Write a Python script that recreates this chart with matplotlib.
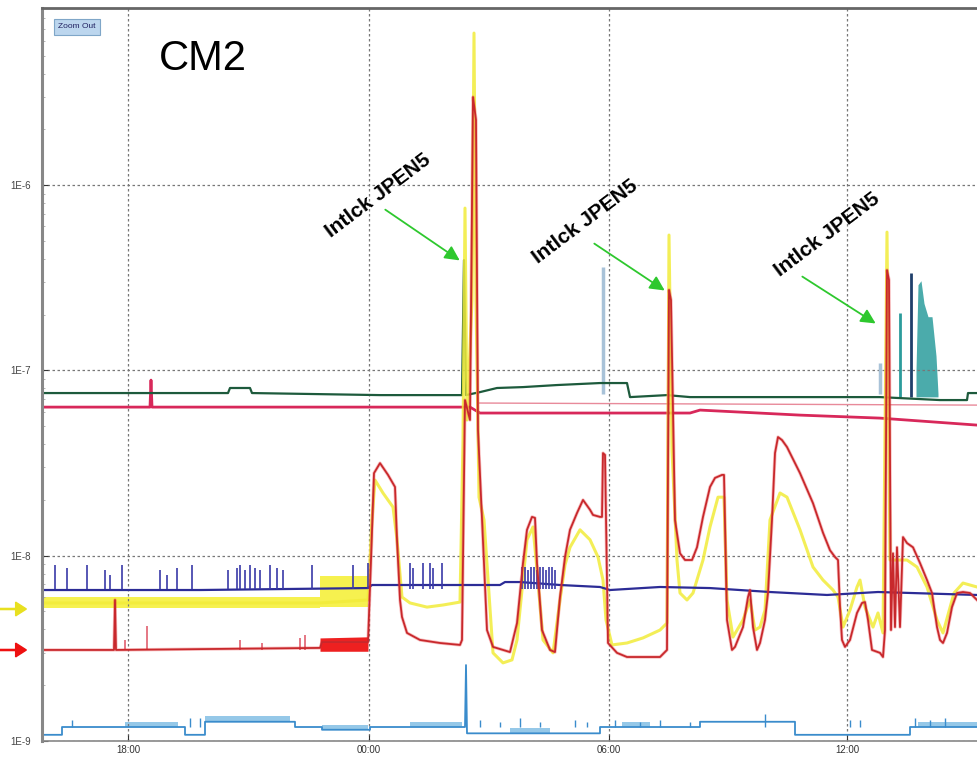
import matplotlib
matplotlib.use('Agg')
import matplotlib.pyplot as plt

plt.rcParams['font.family'] = ['Liberation Sans', 'DejaVu Sans']

# ---------------- data (time in hours from window start, pressure values) ----------------
x_ticks = [2.15, 8.175, 14.175, 20.125]
x_tick_labels = ['18:00', '00:00', '06:00', '12:00']
y_ticks = [1e-9, 1e-8, 1e-7, 1e-6]
y_tick_labels = ['1E-9', '1E-8', '1E-7', '1E-6']

red_t = [0, 1.8, 1.825, 1.85, 6.95, 7.0, 8.15, 8.225, 8.3, 8.45, 8.65, 8.825, 8.875, 8.95, 9.0,
         9.125, 9.45, 9.95, 10.45, 10.5, 10.575, 10.7, 10.775, 10.85, 10.9, 11.125, 11.275, 11.7,
         11.875, 12.025, 12.125, 12.25, 12.325, 12.375, 12.5, 12.7, 12.825, 12.95, 13.075, 13.2,
         13.375, 13.525, 13.7, 13.775, 13.95, 14.0, 14.025, 14.075, 14.15, 14.375, 14.625, 15.45,
         15.625, 15.675, 15.725, 15.825, 15.95, 16.075, 16.25, 16.375, 16.525, 16.7, 16.825, 17.0,
         17.05, 17.125, 17.25, 17.325, 17.525, 17.65, 17.7, 17.775, 17.875, 17.95, 18.075, 18.15,
         18.25, 18.325, 18.4, 18.5, 18.625, 18.95, 19.275, 19.525, 19.7, 19.825, 19.9, 19.95, 20.0,
         20.075, 20.2, 20.375, 20.5, 20.575, 20.65, 20.75, 20.95, 21.025, 21.075, 21.125, 21.175,
         21.225, 21.275, 21.325, 21.375, 21.45, 21.525, 21.625, 21.775, 21.95, 22.125, 22.25,
         22.375, 22.45, 22.525, 22.625, 22.75, 22.875, 23.025, 23.2, 23.375]
red_v = [3.10e-9, 3.10e-9, 5.77e-9, 3.10e-9, 3.18e-9, 3.42e-9, 3.42e-9, 9.48e-9, 2.79e-8, 3.16e-8,
         2.73e-8, 2.35e-8, 1.22e-8, 5.77e-9, 4.67e-9, 3.83e-9, 3.51e-9, 3.38e-9, 3.30e-9, 3.51e-9,
         6.92e-8, 5.40e-8, 2.99e-6, 2.25e-6, 4.77e-8, 3.97e-9, 3.22e-9, 3.02e-9, 4.33e-9, 9.13e-9,
         1.38e-8, 1.62e-8, 1.60e-8, 9.13e-9, 3.97e-9, 3.10e-9, 3.02e-9, 5.98e-9, 9.84e-9, 1.38e-8,
         1.70e-8, 2.00e-8, 1.77e-8, 1.66e-8, 1.62e-8, 1.62e-8, 3.58e-8, 3.50e-8, 3.38e-9, 2.99e-9,
         2.84e-9, 2.84e-9, 3.10e-9, 2.72e-7, 2.40e-7, 1.56e-8, 1.03e-8, 9.48e-9, 9.48e-9, 1.11e-8,
         1.62e-8, 2.35e-8, 2.63e-8, 2.73e-8, 2.73e-8, 4.50e-9, 3.10e-9, 3.22e-9, 4.12e-9, 5.98e-9,
         6.53e-9, 4.12e-9, 3.10e-9, 3.38e-9, 4.50e-9, 6.29e-9, 1.56e-8, 3.58e-8, 4.37e-8, 4.21e-8,
         3.86e-8, 2.79e-8, 1.92e-8, 1.33e-8, 1.07e-8, 9.84e-9, 9.48e-9, 5.28e-9, 3.51e-9, 3.22e-9,
         3.51e-9, 4.91e-9, 5.56e-9, 5.62e-9, 4.50e-9, 3.10e-9, 2.99e-9, 2.84e-9, 3.97e-9, 3.48e-7,
         3.08e-7, 3.97e-9, 1.03e-8, 4.12e-9, 1.11e-8, 4.12e-9, 1.26e-8, 1.17e-8, 1.11e-8, 9.13e-9,
         7.39e-9, 6.29e-9, 4.12e-9, 3.51e-9, 3.38e-9, 3.83e-9, 5.28e-9, 6.29e-9, 6.37e-9, 6.29e-9,
         5.77e-9]
red_band_t = [6.95, 8.15]
red_band_lo = [3.05e-9, 3.05e-9]
red_band_hi = [3.6e-9, 3.65e-9]
red_spike_t = [2.075, 2.625, 4.95, 5.5, 6.45, 6.575]
red_spike_v = [3.5e-9, 4.18e-9, 3.5e-9, 3.38e-9, 3.6e-9, 3.75e-9]

yel_t = [0, 6.95, 8.15, 8.25, 8.325, 8.525, 8.775, 8.875, 9.0, 9.2, 9.625, 10.025, 10.45, 10.525,
         10.575, 10.625, 10.75, 10.8, 10.85, 10.925, 11.05, 11.275, 11.525, 11.75, 11.875, 12.025,
         12.125, 12.275, 12.375, 12.525, 12.775, 12.95, 13.075, 13.2, 13.45, 13.7, 13.9, 14.025,
         14.1, 14.25, 14.625, 15.025, 15.45, 15.625, 15.675, 15.75, 15.875, 15.95, 16.125, 16.275,
         16.525, 16.7, 16.9, 17.05, 17.125, 17.275, 17.525, 17.7, 17.825, 17.95, 18.075, 18.2,
         18.45, 18.625, 18.95, 19.275, 19.525, 19.775, 19.9, 20.025, 20.2, 20.375, 20.45, 20.575,
         20.775, 20.9, 21.025, 21.125, 21.2, 21.45, 21.625, 21.875, 22.125, 22.375, 22.525, 22.8,
         23.025, 23.375]
yel_v = [5.56e-9, 5.56e-9, 5.77e-9, 1.56e-8, 2.56e-8, 2.18e-8, 1.83e-8, 1.22e-8, 5.98e-9, 5.56e-9,
         5.28e-9, 5.42e-9, 5.62e-9, 4.21e-8, 7.52e-7, 5.40e-8, 2.40e-7, 6.62e-6, 2.40e-7, 2.07e-8,
         1.56e-8, 2.99e-9, 2.64e-9, 2.74e-9, 3.51e-9, 7.39e-9, 1.22e-8, 1.43e-8, 8.37e-9, 3.51e-9,
         2.99e-9, 5.77e-9, 8.91e-9, 1.11e-8, 1.38e-8, 1.22e-8, 9.84e-9, 7.39e-9, 4.50e-9, 3.30e-9,
         3.38e-9, 3.60e-9, 3.97e-9, 4.33e-9, 5.38e-7, 3.70e-8, 9.48e-9, 6.29e-9, 5.77e-9, 6.29e-9,
         9.48e-9, 1.43e-8, 2.07e-8, 2.07e-8, 5.77e-9, 3.64e-9, 4.50e-9, 5.77e-9, 3.97e-9, 4.12e-9,
         5.09e-9, 1.56e-8, 2.18e-8, 2.07e-8, 1.38e-8, 8.69e-9, 7.39e-9, 6.53e-9, 5.98e-9, 4.12e-9,
         5.09e-9, 6.78e-9, 7.39e-9, 5.28e-9, 4.12e-9, 4.91e-9, 3.83e-9, 5.58e-7, 9.48e-9, 9.48e-9,
         9.48e-9, 8.69e-9, 6.78e-9, 4.50e-9, 3.83e-9, 6.29e-9, 7.12e-9, 6.78e-9]
yel_band_t = [0, 6.95, 6.95, 8.15]
yel_band_lo = [5.2e-9, 5.2e-9, 5.3e-9, 5.3e-9]
yel_band_hi = [5.95e-9, 5.95e-9, 7.8e-9, 7.8e-9]

navy_t = [0, 3.95, 8.15, 8.25, 11.45, 11.575, 11.95, 12.95, 13.95, 14.2, 15.45, 16.7, 18.2, 19.625,
          20.9, 23.375]
navy_v = [6.53e-9, 6.53e-9, 6.69e-9, 6.95e-9, 6.95e-9, 7.21e-9, 7.21e-9, 6.95e-9, 6.78e-9, 6.53e-9,
          6.78e-9, 6.69e-9, 6.37e-9, 6.14e-9, 6.37e-9, 6.14e-9]
navy_spike_t = [0.325, 0.625, 1.125, 1.575, 1.7, 2.0, 2.95, 3.125, 3.375, 3.75, 4.65, 4.875, 4.95,
                5.075, 5.2, 5.325, 5.45, 5.7, 5.875, 6.025, 6.75, 7.775, 8.15, 9.2, 9.275, 9.525,
                9.7, 9.775, 10.0, 12.0, 12.075, 12.15, 12.225, 12.3, 12.375, 12.45, 12.525, 12.6,
                12.675, 12.75, 12.825]
navy_spike_v = [8.9e-9, 8.6e-9, 8.9e-9, 8.4e-9, 7.9e-9, 8.9e-9, 8.4e-9, 7.9e-9, 8.6e-9, 8.9e-9,
                8.4e-9, 8.6e-9, 8.9e-9, 8.4e-9, 8.9e-9, 8.6e-9, 8.4e-9, 8.9e-9, 8.6e-9, 8.4e-9,
                8.9e-9, 8.9e-9, 9.1e-9, 9.1e-9, 8.6e-9, 9.1e-9, 9.1e-9, 8.6e-9, 9.1e-9, 8.7e-9,
                8.7e-9, 8.4e-9, 8.7e-9, 8.7e-9, 8.4e-9, 8.7e-9, 8.7e-9, 8.4e-9, 8.7e-9, 8.7e-9,
                8.4e-9]

green_t = [0, 4.65, 4.7, 5.2, 5.25, 8.45, 10.5, 10.55, 10.6, 10.95, 11.375, 12.025, 12.875, 13.95,
           14.625, 14.7, 15.625, 16.2, 20.95, 22.45, 23.125, 23.15, 23.375]
green_v = [7.55e-8, 7.55e-8, 8.04e-8, 8.04e-8, 7.55e-8, 7.36e-8, 7.36e-8, 3.94e-7, 7.36e-8, 7.64e-8,
           8.04e-8, 8.13e-8, 8.34e-8, 8.55e-8, 8.55e-8, 7.18e-8, 7.36e-8, 7.18e-8, 7.18e-8, 6.92e-8,
           6.92e-8, 7.55e-8, 7.55e-8]

teal_t = [21.85, 21.9, 21.975, 22.05, 22.15, 22.25, 22.35, 22.4]
teal_v = [1.0e-7, 2.9e-7, 3.05e-7, 2.3e-7, 1.95e-7, 1.95e-7, 1.2e-7, 7.5e-8]
teal_spike_t = [21.45, 21.725]
teal_spike_v = [2.04e-7, 3.36e-7]
light_spike_t = [14.025, 20.95]
light_spike_v = [3.61e-7, 1.10e-7]

crim_t = [0, 2.7, 2.725, 2.75, 10.7, 10.95, 16.2, 16.45, 18.95, 20.95, 23.375]
crim_v = [6.34e-8, 6.34e-8, 8.87e-8, 6.34e-8, 6.34e-8, 5.89e-8, 5.89e-8, 6.11e-8, 5.74e-8, 5.53e-8,
          5.07e-8]
pink_t = [10.9, 23.375]
pink_v = [6.67e-8, 6.50e-8]

lb_t = [0, 0.5, 0.5, 3.575, 3.575, 4.075, 4.075, 6.325, 6.325, 7.0, 7.0, 8.2, 8.2, 10.575, 10.6,
        10.625, 13.95, 13.95, 16.45, 16.45, 18.825, 18.825, 21.7, 21.7, 23.375]
lb_v = [1.08e-9, 1.08e-9, 1.19e-9, 1.19e-9, 1.08e-9, 1.08e-9, 1.27e-9, 1.27e-9, 1.19e-9, 1.19e-9,
        1.15e-9, 1.15e-9, 1.19e-9, 1.19e-9, 2.57e-9, 1.10e-9, 1.10e-9, 1.19e-9, 1.19e-9, 1.27e-9,
        1.27e-9, 1.08e-9, 1.08e-9, 1.19e-9, 1.19e-9]
lb_spike_t = [0.75, 3.7, 3.95, 10.95, 11.45, 11.95, 12.45, 13.325, 13.625, 14.325, 14.95, 15.45,
              16.2, 18.075, 20.2, 20.45, 21.825, 22.2, 22.575]
lb_spike_v = [1.30e-9, 1.33e-9, 1.33e-9, 1.30e-9, 1.27e-9, 1.33e-9, 1.27e-9, 1.30e-9, 1.27e-9,
              1.30e-9, 1.27e-9, 1.30e-9, 1.27e-9, 1.40e-9, 1.30e-9, 1.30e-9, 1.33e-9, 1.30e-9,
              1.33e-9]
lb_band_start = [2.075, 4.075, 7.0, 9.2, 11.7, 14.5, 21.9]
lb_band_end = [3.4, 6.2, 8.15, 10.5, 12.7, 15.2, 23.375]
lb_band_lo = [1.19e-9, 1.27e-9, 1.15e-9, 1.19e-9, 1.10e-9, 1.19e-9, 1.19e-9]
lb_band_hi = [1.26e-9, 1.36e-9, 1.22e-9, 1.26e-9, 1.17e-9, 1.26e-9, 1.26e-9]

annot_text = ['Intlck JPEN5', 'Intlck JPEN5', 'Intlck JPEN5']
annot_text_xy = [(8.4, 8.73e-7), (13.575, 6.32e-7), (19.625, 5.38e-7)]
annot_tail = [(8.525, 7.52e-7), (13.75, 4.93e-7), (18.95, 3.27e-7)]
annot_tip = [(10.5, 3.85e-7), (15.625, 2.65e-7), (20.9, 1.76e-7)]

# ---------------- figure ----------------
fig = plt.figure(figsize=(9.77, 7.66), dpi=100)
ax = fig.add_axes([42 / 977, 1 - 741 / 766, (977 - 42) / 977, 733 / 766])
ax.set_yscale('log')
ax.set_xlim(0, 23.375)
ax.set_ylim(1e-9, 9.04e-6)

# bottom light-blue trace
for s, e, lo, hi in zip(lb_band_start, lb_band_end, lb_band_lo, lb_band_hi):
    ax.fill_between([s, e], [lo, lo], [hi, hi], color='#3f9bd6', alpha=0.55, lw=0)
ax.plot(lb_t, lb_v, color='#3a8ccc', lw=1.3)
ax.vlines(lb_spike_t, [1.19e-9] * len(lb_spike_t), lb_spike_v, color='#3a8ccc', lw=1.0)

# crimson / pink lines near 6e-8
ax.plot(crim_t, crim_v, color='#d8285a', lw=2.0)
ax.plot(pink_t, pink_v, color='#e88a9a', lw=1.0)

# light spikes
ax.vlines(light_spike_t, [7.5e-8] * len(light_spike_t), light_spike_v, color='#a8c2d8', lw=2.5)

# green trace + teal cluster
ax.fill_between(teal_t, [7.2e-8] * len(teal_t), teal_v, color='#2b9c9c', lw=0, alpha=0.85)
ax.vlines(teal_spike_t, [7.2e-8] * len(teal_spike_t), teal_spike_v, color=['#2b9c9c', '#1f3f6a'], lw=2.0)
ax.plot(green_t, green_v, color='#1d5a3c', lw=1.6)

# yellow trace
ax.fill_between(yel_band_t, yel_band_lo, yel_band_hi, color='#f6f03c', lw=0, alpha=0.9)
ax.plot(yel_t, yel_v, color='#f2ec3a', lw=2.2, alpha=0.85)

# navy trace
ax.plot(navy_t, navy_v, color='#2c2c96', lw=1.6)
ax.vlines(navy_spike_t, [6.6e-9] * len(navy_spike_t), navy_spike_v, color='#3a3aa8', lw=1.2)

# red trace
ax.fill_between(red_band_t, red_band_lo, red_band_hi, color='#ee2020', lw=0)
ax.vlines(red_spike_t, [3.1e-9] * len(red_spike_t), red_spike_v, color='#e06070', lw=1.2)
ax.plot(red_t, red_v, color='#e8282c', lw=2.4, alpha=0.3)
ax.plot(red_t, red_v, color='#c8282c', lw=1.3)

# grid and axes styling
ax.set_xticks(x_ticks)
ax.set_xticklabels(x_tick_labels, fontsize=7, color='#333333')
ax.set_yticks(y_ticks)
ax.set_yticklabels(y_tick_labels, fontsize=7, color='#444444')
ax.grid(True, which='major', color='#777777', ls=(0, (2, 2)), lw=0.9)
ax.tick_params(axis='both', which='major', length=4, direction='in', pad=3, color='#333333')
ax.tick_params(axis='y', which='minor', length=2, direction='in', color='#aaaaaa')
ax.tick_params(axis='y', pad=8)
ax.spines['right'].set_visible(False)
ax.spines['left'].set_color('#888888')
ax.spines['left'].set_linewidth(2.2)
ax.spines['top'].set_color('#666666')
ax.spines['top'].set_linewidth(2.0)
ax.spines['bottom'].set_color('#888888')
ax.spines['bottom'].set_linewidth(1.2)

# annotations
for txt, txy, tail, tip in zip(annot_text, annot_text_xy, annot_tail, annot_tip):
    ax.text(txy[0], txy[1], txt, rotation=37, ha='center', va='center',
            fontsize=15, fontweight='bold', color='black')
    ax.annotate('', xy=tip, xytext=tail,
                arrowprops=dict(arrowstyle='-|>', color='#2ec82e', lw=1.3, mutation_scale=22))

ax.text(0.125, 0.915, 'CM2', transform=ax.transAxes, fontsize=30, color='black')

# zoom-out button
fig.text(77 / 977, 1 - 27 / 766, 'Zoom Out', fontsize=6, color='#202060', ha='center', va='center',
         bbox=dict(boxstyle='square,pad=0.55', fc='#bcd6ee', ec='#7fa6c8', lw=0.8))

# side arrows
fig.patches.append(matplotlib.patches.FancyArrow(0.0, 1 - 609 / 766, 0.016, 0, width=0.0015,
                                                 head_width=0.018, head_length=0.011,
                                                 color='#e8e020', transform=fig.transFigure))
fig.patches.append(matplotlib.patches.FancyArrow(0.0, 1 - 650 / 766, 0.016, 0, width=0.0015,
                                                 head_width=0.018, head_length=0.011,
                                                 color='#ee1010', transform=fig.transFigure))

fig.savefig('out.png', dpi=100)
